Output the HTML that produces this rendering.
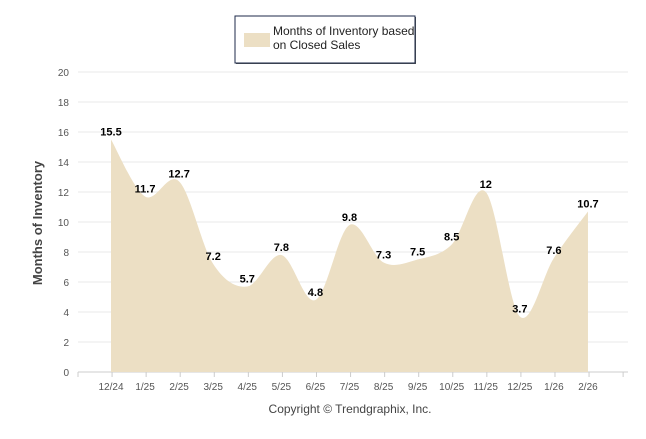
<!DOCTYPE html>
<html><head><meta charset="utf-8"><style>
body{margin:0;background:#fff;width:646px;height:434px;overflow:hidden;font-family:"Liberation Sans",sans-serif}
</style></head><body>
<svg width="646" height="434" xmlns="http://www.w3.org/2000/svg">
<g>
<rect x="236" y="17" width="180" height="47" fill="#555"/>
<rect x="235" y="16" width="180" height="47" fill="#fff" stroke="#1c2a4a" stroke-width="1"/>
<rect x="244" y="33" width="26" height="14" fill="#ecdfc4"/>
<text x="273" y="35" font-size="12" fill="#222">Months of Inventory based</text>
<text x="273" y="49" font-size="12" fill="#222">on Closed Sales</text>
</g>
<g id="grid"></g>
<g id="area"></g>
<g id="labels"></g>
<text transform="translate(42,223) rotate(-90)" text-anchor="middle" font-size="13" font-weight="bold" fill="#444">Months of Inventory</text>
<text x="350" y="413" text-anchor="middle" font-size="12" fill="#444">Copyright © Trendgraphix, Inc.</text>
</svg>
<script>
const categories=["12/24","1/25","2/25","3/25","4/25","5/25","6/25","7/25","8/25","9/25","10/25","11/25","12/25","1/26","2/26"];
const values=[15.5,11.7,12.7,7.2,5.7,7.8,4.8,9.8,7.3,7.5,8.5,12,3.7,7.6,10.7];
const yTicks=[0,2,4,6,8,10,12,14,16,18,20];
const NS="http://www.w3.org/2000/svg";
const X0=111,DX=34.07,Y0=372,PY=15,L=78,R=628;
const xs=i=>X0+i*DX, ys=v=>Y0-v*PY;
function mk(t,a,p){const e=document.createElementNS(NS,t);for(const k in a)e.setAttribute(k,a[k]);p.appendChild(e);return e;}
const grid=document.getElementById('grid');
yTicks.forEach(t=>{
 const l=mk('line',{x1:L,x2:R,y1:ys(t),y2:ys(t),stroke:t===0?'#ccc':'#e8e8e8'},grid);
 
 
 const tx=mk('text',{x:69,y:ys(t)+4,'text-anchor':'end','font-size':'10',fill:'#555'},grid);tx.textContent=t;
 
 
});
for(let i=0;i<=16;i++){const x=L+i*DX;if(x>R+1)break;mk('line',{x1:x,x2:x,y1:Y0,y2:Y0+5,stroke:'#ccc'},grid);}
categories.forEach((c,i)=>{
 const tx=mk('text',{x:xs(i),y:Y0+18,'text-anchor':'middle','font-size':'10',fill:'#555'},grid);tx.textContent=c;
 
 
});
const pts=values.map((v,i)=>[xs(i),ys(v)]);
let d=`M${pts[0][0]},${Y0}L${pts[0][0]},${pts[0][1]}`;
for(let i=0;i<pts.length-1;i++){
 const p0=pts[Math.max(0,i-1)],p1=pts[i],p2=pts[i+1],p3=pts[Math.min(pts.length-1,i+2)];
 const k=1/6;
 const c1=[p1[0]+(p2[0]-p0[0])*k,p1[1]+(p2[1]-p0[1])*k];
 const c2=[p2[0]-(p3[0]-p1[0])*k,p2[1]-(p3[1]-p1[1])*k];
 d+=`C${c1[0]},${c1[1]} ${c2[0]},${c2[1]} ${p2[0]},${p2[1]}`;
}
d+=`L${pts[pts.length-1][0]},${Y0}Z`;
const a=mk('path',{d:d,fill:'#ecdfc4'},document.getElementById('area'));


const lab=document.getElementById('labels');
values.forEach((v,i)=>{
 const tx=mk('text',{x:xs(i),y:ys(v)-4,'text-anchor':'middle','font-size':'11','font-weight':'bold',fill:'#000'},lab);tx.textContent=v;
 
 
});
</script>
</body></html>
